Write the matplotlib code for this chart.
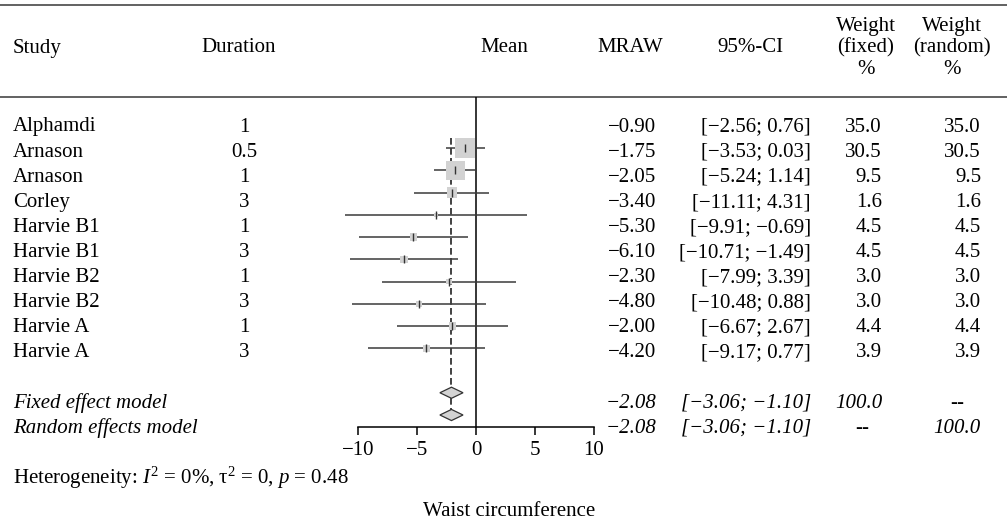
import numpy as np
import matplotlib
matplotlib.use('Agg')
import matplotlib.pyplot as plt

plt.rcParams['font.family'] = ['Liberation Serif', 'DejaVu Serif']
plt.rcParams['mathtext.fontset'] = 'custom'
plt.rcParams['mathtext.rm'] = 'Liberation Serif'
plt.rcParams['mathtext.it'] = 'Liberation Serif:italic'

# data
studies = ['Alphamdi', 'Arnason', 'Arnason', 'Corley', 'Harvie B1', 'Harvie B1',
           'Harvie B2', 'Harvie B2', 'Harvie A', 'Harvie A']
duration = ['1', '0.5', '1', '3', '1', '3', '1', '3', '1', '3']
mraw = [-0.90, -1.75, -2.05, -3.40, -5.30, -6.10, -2.30, -4.80, -2.00, -4.20]
ci_lo = [-2.56, -3.53, -5.24, -11.11, -9.91, -10.71, -7.99, -10.48, -6.67, -9.17]
ci_hi = [0.76, 0.03, 1.14, 4.31, -0.69, -1.49, 3.39, 0.88, 2.67, 0.77]
w_fixed = [35.0, 30.5, 9.5, 1.6, 4.5, 4.5, 3.0, 3.0, 4.4, 3.9]
w_random = [35.0, 30.5, 9.5, 1.6, 4.5, 4.5, 3.0, 3.0, 4.4, 3.9]
pooled = [-2.08, -2.08]
pooled_lo = [-3.06, -3.06]
pooled_hi = [-1.10, -1.10]
models = ['Fixed effect model', 'Random effects model']
model_w_fixed = ['100.0', '--']
model_w_random = ['--', '100.0']
xticks = [-10, -5, 0, 5, 10]

W, H = 1007, 526
FS = 15

def num(v):
    return '{:.2f}'.format(v).replace('-', '\u2212')

def ci(lo, hi):
    return '[{}; {}]'.format(num(lo), num(hi))

fig = plt.figure(figsize=(W / 100, H / 100), dpi=100)
fig.patch.set_facecolor('white')

# text table in pixel-like layout coords
tab = fig.add_axes([0, 0, 1, 1])
tab.set_xlim(0, W)
tab.set_ylim(H, 0)
tab.axis('off')

rule_kw = dict(color='#555555', lw=1.3)
tab.axhline(5, **rule_kw)
tab.axhline(97, **rule_kw)

hy = 48
tab.text(13, hy, 'Study', fontsize=FS, va='center', ha='left')
tab.text(239, hy, 'Duration', fontsize=FS, va='center', ha='center')
tab.text(480, hy, 'Mean', fontsize=FS, va='center', ha='left')
tab.text(663, hy, 'MRAW', fontsize=FS, va='center', ha='right')
tab.text(750, hy, '95%-CI', fontsize=FS, va='center', ha='center')
for cx, lab in [(866, '(fixed)'), (952, '(random)')]:
    tab.text(cx, 26, 'Weight', fontsize=FS, va='center', ha='center')
    tab.text(cx, hy, lab, fontsize=FS, va='center', ha='center')
    tab.text(cx, 69, '%', fontsize=FS, va='center', ha='center')

ty0, tdy = 127, 25.1
for i in range(len(studies)):
    y = ty0 + tdy * i
    tab.text(13, y, studies[i], fontsize=FS, va='center', ha='left')
    tab.text(244, y, duration[i], fontsize=FS, va='center', ha='center')
    tab.text(656, y, num(mraw[i]), fontsize=FS, va='center', ha='right')
    tab.text(811, y, ci(ci_lo[i], ci_hi[i]), fontsize=FS, va='center', ha='right')
    tab.text(882, y, '{:.1f}'.format(w_fixed[i]), fontsize=FS, va='center', ha='right')
    tab.text(981, y, '{:.1f}'.format(w_random[i]), fontsize=FS, va='center', ha='right')

for j in range(len(models)):
    y = ty0 + tdy * (len(studies) + 1 + j)
    it = dict(fontsize=FS, va='center', style='italic')
    tab.text(13, y, models[j], ha='left', **it)
    tab.text(656, y, num(pooled[j]), ha='right', **it)
    tab.text(811, y, ci(pooled_lo[j], pooled_hi[j]), ha='right', **it)
    for txt, xr, xc in [(model_w_fixed[j], 882, 862), (model_w_random[j], 981, 957)]:
        if txt == '--':
            tab.text(xc, y, txt, ha='center', **it)
        else:
            tab.text(xr, y, txt, ha='right', **it)

tab.text(13, 478, r'Heterogeneity: $I^2$ = 0%, $\mathrm{\tau}^2$ = 0, $p$ = 0.48',
         fontsize=FS, va='center', ha='left')
tab.text(423, 512, 'Waist circumference', fontsize=FS, va='center', ha='left')

# forest panel
px_left, px_right = 358, 594
px_top, px_axis = 97, 427
row0, rdy = 148, 22.25
ax = fig.add_axes([px_left / W, 1 - px_axis / H, (px_right - px_left) / W, (px_axis - px_top) / H])
ax.set_xlim(-10, 10)
ax.set_ylim((px_axis - row0) / rdy, (px_top - row0) / rdy)
ax.patch.set_alpha(0)
for s in ['left', 'right', 'top']:
    ax.spines[s].set_visible(False)
ax.spines['bottom'].set_bounds(-10, 10)
ax.spines['bottom'].set_linewidth(1.1)
ax.set_yticks([])
ax.set_xticks(xticks)
ax.tick_params(axis='x', length=6, width=1.1, pad=4, labelsize=FS)

rows = np.arange(len(studies))
ax.axvline(0, color='black', lw=1.1, zorder=1)
ax.vlines(pooled[0], -0.45, len(studies) + 1.78, colors='#222222', lw=1.2,
          linestyles=(0, (4, 2)), zorder=1)
ax.hlines(rows, ci_lo, ci_hi, colors='#3a3a3a', lw=1.1, zorder=2, clip_on=False)
ax.scatter(mraw, rows, s=np.array(w_fixed) * 5.9, marker='s', color='#d2d2d2',
           edgecolors='none', zorder=3, clip_on=False)
ax.scatter(mraw, rows, s=30, marker='|', color='#333333', linewidths=1.0, zorder=4)

for j in range(len(models)):
    yc = len(studies) + 1 + j
    dx = [pooled_lo[j], pooled[j], pooled_hi[j], pooled[j]]
    dy = [yc, yc - 0.25, yc, yc + 0.25]
    ax.fill(dx, dy, facecolor='#d3d3d3', edgecolor='#333333', lw=0.9, zorder=5)

fig.savefig('out.png', dpi=100)
